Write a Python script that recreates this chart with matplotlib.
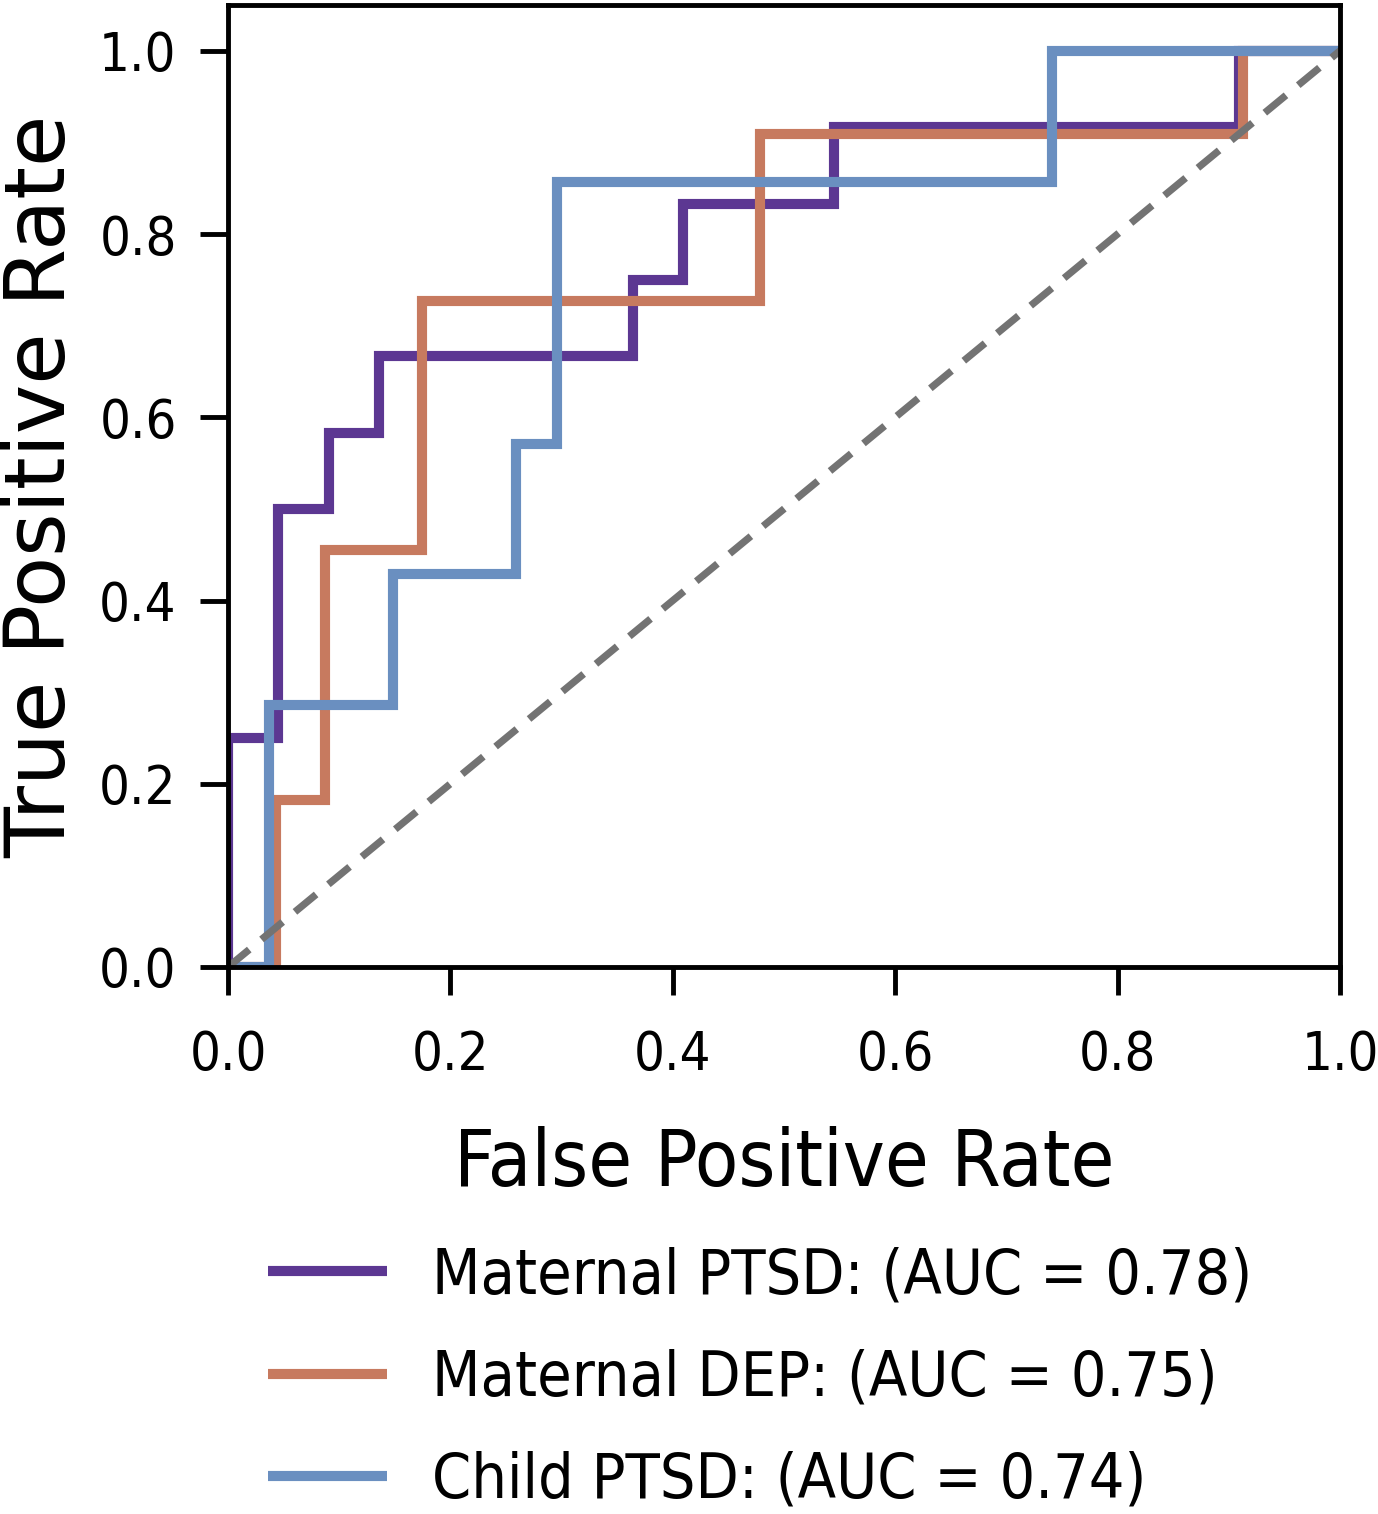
import matplotlib
matplotlib.use('Agg')
import matplotlib.pyplot as plt
from matplotlib import font_manager

# ROC curve points (fpr, tpr)
ptsd_fpr = [0, 0, 0.045, 0.045, 0.091, 0.091, 0.136, 0.136, 0.364, 0.364,
            0.409, 0.409, 0.545, 0.545, 0.909, 0.909, 1.0]
ptsd_tpr = [0, 0.25, 0.25, 0.5, 0.5, 0.583, 0.583, 0.667, 0.667, 0.75,
            0.75, 0.833, 0.833, 0.917, 0.917, 1.0, 1.0]

dep_fpr = [0, 0.0435, 0.0435, 0.087, 0.087, 0.174, 0.174, 0.478, 0.478,
           0.913, 0.913, 1.0]
dep_tpr = [0, 0, 0.182, 0.182, 0.455, 0.455, 0.727, 0.727, 0.909,
           0.909, 1.0, 1.0]

child_fpr = [0, 0.037, 0.037, 0.148, 0.148, 0.259, 0.259, 0.296, 0.296,
             0.741, 0.741, 1.0]
child_tpr = [0, 0, 0.286, 0.286, 0.429, 0.429, 0.571, 0.571, 0.857,
             0.857, 1.0, 1.0]

labels = ['Maternal PTSD: (AUC = 0.78)',
          'Maternal DEP: (AUC = 0.75)',
          'Child PTSD: (AUC = 0.74)']
colors = ['#5c3792', '#c77a5f', '#6a8fc0']
ticks = [0.0, 0.2, 0.4, 0.6, 0.8, 1.0]

# use the condensed DejaVu if it is installed
has_cond = any('DejaVuSansCondensed' in f.fname.replace('-', '')
               for f in font_manager.fontManager.ttflist)
stretch = 'condensed' if has_cond else 'normal'
plt.rcParams['font.family'] = ['DejaVu Sans']
plt.rcParams['font.stretch'] = stretch

fig = plt.figure(figsize=(13.78, 15.14), dpi=100)
ax = fig.add_axes([0.1655, 0.3613, 0.8069, 0.6354])

for fpr, tpr, lab, c in zip([ptsd_fpr, dep_fpr, child_fpr],
                            [ptsd_tpr, dep_tpr, child_tpr], labels, colors):
    ax.plot(fpr, tpr, color=c, linewidth=7.3, label=lab,
            solid_capstyle='butt', solid_joinstyle='miter')

ax.plot([0, 1], [0, 1], color='#737373', linestyle='--', linewidth=5.2,
        dashes=(3.8, 2.2))

ax.set_xlim(0, 1.0)
ax.set_ylim(0, 1.05)
ax.set_xticks(ticks)
ax.set_yticks(ticks)
ax.set_xticklabels([f'{t:.1f}' for t in ticks])
ax.set_yticklabels([f'{t:.1f}' for t in ticks])

for s in ax.spines.values():
    s.set_linewidth(3.5)
ax.tick_params(axis='both', length=20, width=3.5, labelsize=39)
ax.tick_params(axis='x', pad=25)
ax.tick_params(axis='y', pad=17)

ax.set_xlabel('False Positive Rate', fontsize=57, labelpad=32)
ax.set_ylabel('True Positive Rate', fontsize=60, labelpad=12,
              fontstretch='normal')

fig.legend(loc='upper left', bbox_to_anchor=(268 / 1378, 1 - 1246 / 1514),
           frameon=False, fontsize=45, handlelength=1.9, handletextpad=0.72,
           labelspacing=0.68, borderpad=0, borderaxespad=0)

fig.savefig('out.png', dpi=100)
